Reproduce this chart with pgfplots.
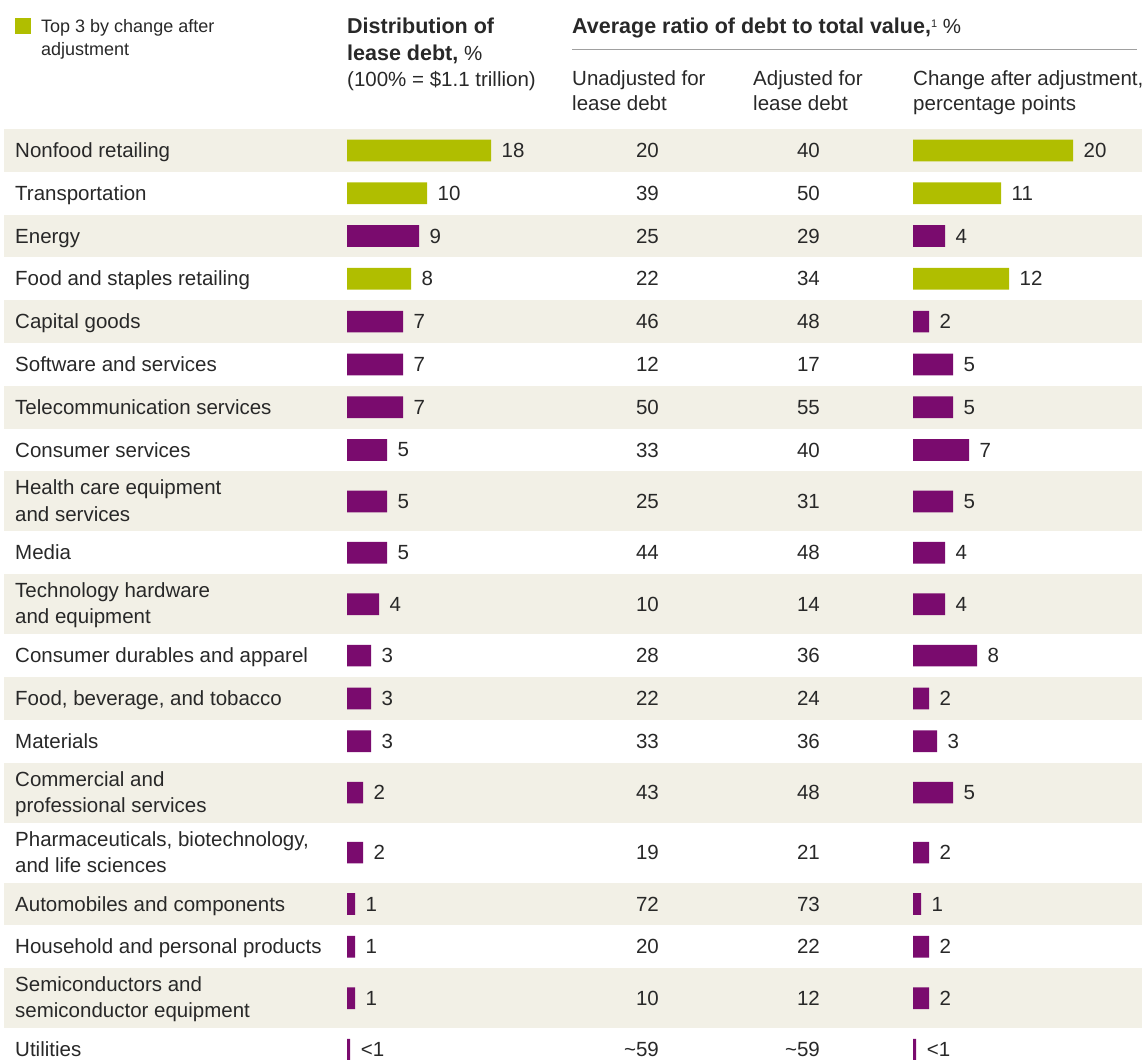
\documentclass[border=0pt]{standalone}
\usepackage{pgfplots}
\pgfplotsset{compat=1.18}
\usepackage{pgfplotstable}
\usepackage{fontspec}
\setmainfont{Liberation Sans}
\definecolor{lgreen}{RGB}{176,190,0}
\definecolor{lpurple}{RGB}{122,11,110}
\definecolor{beige}{RGB}{242,240,230}
\definecolor{txt}{RGB}{40,40,40}
\definecolor{rule}{RGB}{160,160,160}
\newcommand\tld{\char"7E\relax}
\newcommand\bodyfont{\fontsize{20.5}{26.3}\selectfont}
\newcommand\legfont{\fontsize{18}{22.7}\selectfont}
\newcommand\boldfont{\fontsize{21.5}{26.3}\selectfont\bfseries}

% y = row centre (px from top), lease = distribution of lease debt, ll = its label,
% unadj / adj = debt ratios, change = change after adjustment, cl = its label
\pgfplotstableread{
y lease ll unadj adj change cl
150.4 18 18 20 40 20 20
193.2 10 10 39 50 11 11
278.8 8 8 22 34 12 12
}\topd
\pgfplotstableread{
y lease ll unadj adj change cl
236.0 9 9 25 29 4 4
321.6 7 7 46 48 2 2
364.4 7 7 12 17 5 5
407.2 7 7 50 55 5 5
450.0 5 5 33 40 7 7
501.4 5 5 25 31 5 5
552.8 5 5 44 48 4 4
604.2 4 4 10 14 4 4
655.6 3 3 28 36 8 8
698.4 3 3 22 24 2 2
741.2 3 3 33 36 3 3
792.6 2 2 43 48 5 5
852.6 2 2 19 21 2 2
904.0 1 1 72 73 1 1
946.8 1 1 20 22 2 2
998.2 1 1 10 12 2 2
1049.6 0.4 <1 \tld59 \tld59 0.4 <1
}\purd

\tikzset{lab/.style={anchor=base west, inner sep=0pt, font=\bodyfont, text=txt}}
\pgfplotsset{
  frame/.style={scale only axis, height=1059pt, ymin=0, ymax=1059, y dir=reverse,
    hide axis, clip=false, anchor=origin},
  numcol/.style={draw=none, mark=none, nodes near coords, point meta=explicit symbolic,
    every node near coord/.style={anchor=east, inner sep=0pt, font=\bodyfont, text=txt}},
  barplot/.style={xbar, bar shift=0pt, bar width=21.7pt, draw=none, fill=#1,
    nodes near coords, point meta=explicit symbolic,
    every node near coord/.style={anchor=west, inner sep=0pt, xshift=10.5pt, font=\bodyfont, text=txt}},
}

\begin{document}
\begin{tikzpicture}[x=1pt,y=1pt]
\useasboundingbox (0,0) rectangle (1147,-1059);
\clip (0,0) rectangle (1147,-1059);
\begin{axis}[frame, at={(0pt,0pt)}, width=1147pt, xmin=0, xmax=1147]
  % alternate row shading
  \fill[beige] (4,129.0) rectangle (1142,171.8);
  \fill[beige] (4,214.6) rectangle (1142,257.4);
  \fill[beige] (4,300.2) rectangle (1142,343.0);
  \fill[beige] (4,385.8) rectangle (1142,428.6);
  \fill[beige] (4,471.4) rectangle (1142,531.4);
  \fill[beige] (4,574.2) rectangle (1142,634.2);
  \fill[beige] (4,677.0) rectangle (1142,719.8);
  \fill[beige] (4,762.6) rectangle (1142,822.6);
  \fill[beige] (4,882.6) rectangle (1142,925.4);
  \fill[beige] (4,968.2) rectangle (1142,1028.2);
  % legend
  \fill[lgreen] (15,18.3) rectangle (31,33.7);
  \node[lab, font=\legfont] at (41,32.5) {Top 3 by change after};
  \node[lab, font=\legfont] at (41,55.2) {adjustment};
  % headers
  \node[lab, font=\boldfont] at (347,33.7) {Distribution of};
  \node[lab] at (347,60) {{\boldfont lease debt,} \%};
  \node[lab] at (347,86.3) {(100\% = \$1.1 trillion)};
  \node[lab] at (572,33.7) {{\boldfont Average ratio of debt to total value,}\raisebox{0.6ex}{\fontsize{11}{11}\selectfont 1} \%};
  \draw[rule, line width=1pt] (572,49.3) -- (1137,49.3);
  \node[lab] at (572,85) {Unadjusted for};
  \node[lab] at (572,110.8) {lease debt};
  \node[lab] at (753,85) {Adjusted for};
  \node[lab] at (753,110.8) {lease debt};
  \node[lab] at (913,85) {Change after adjustment,};
  \node[lab] at (913,110.8) {percentage points};
  % categories
  \node[lab] at (15,157.4) {Nonfood retailing};
  \node[lab] at (15,200.2) {Transportation};
  \node[lab] at (15,243.0) {Energy};
  \node[lab] at (15,285.8) {Food and staples retailing};
  \node[lab] at (15,328.6) {Capital goods};
  \node[lab] at (15,371.4) {Software and services};
  \node[lab] at (15,414.2) {Telecommunication services};
  \node[lab] at (15,457.0) {Consumer services};
  \node[lab] at (15,494.8) {Health care equipment};
  \node[lab] at (15,521.1) {and services};
  \node[lab] at (15,559.8) {Media};
  \node[lab] at (15,597.6) {Technology hardware};
  \node[lab] at (15,623.9) {and equipment};
  \node[lab] at (15,662.6) {Consumer durables and apparel};
  \node[lab] at (15,705.4) {Food, beverage, and tobacco};
  \node[lab] at (15,748.2) {Materials};
  \node[lab] at (15,786.0) {Commercial and};
  \node[lab] at (15,812.3) {professional services};
  \node[lab] at (15,846.0) {Pharmaceuticals, biotechnology,};
  \node[lab] at (15,872.3) {and life sciences};
  \node[lab] at (15,911.0) {Automobiles and components};
  \node[lab] at (15,953.8) {Household and personal products};
  \node[lab] at (15,991.6) {Semiconductors and};
  \node[lab] at (15,1017.9) {semiconductor equipment};
  \node[lab] at (15,1056.6) {Utilities};
  % ratio columns
  \addplot[numcol] table[x expr=659, y=y, meta=unadj] {\topd};
  \addplot[numcol] table[x expr=659, y=y, meta=unadj] {\purd};
  \addplot[numcol] table[x expr=820, y=y, meta=adj] {\topd};
  \addplot[numcol] table[x expr=820, y=y, meta=adj] {\purd};
\end{axis}
% distribution of lease debt bars
\begin{axis}[frame, at={(347pt,0pt)}, width=800pt, xmin=0, xmax=100]
  \addplot[barplot=lpurple] table[x=lease, y=y, meta=ll] {\purd};
  \addplot[barplot=lgreen] table[x=lease, y=y, meta=ll] {\topd};
\end{axis}
% change after adjustment bars
\begin{axis}[frame, at={(913pt,0pt)}, width=800pt, xmin=0, xmax=100]
  \addplot[barplot=lpurple] table[x=change, y=y, meta=cl] {\purd};
  \addplot[barplot=lgreen] table[x=change, y=y, meta=cl] {\topd};
\end{axis}
\end{tikzpicture}
\end{document}
